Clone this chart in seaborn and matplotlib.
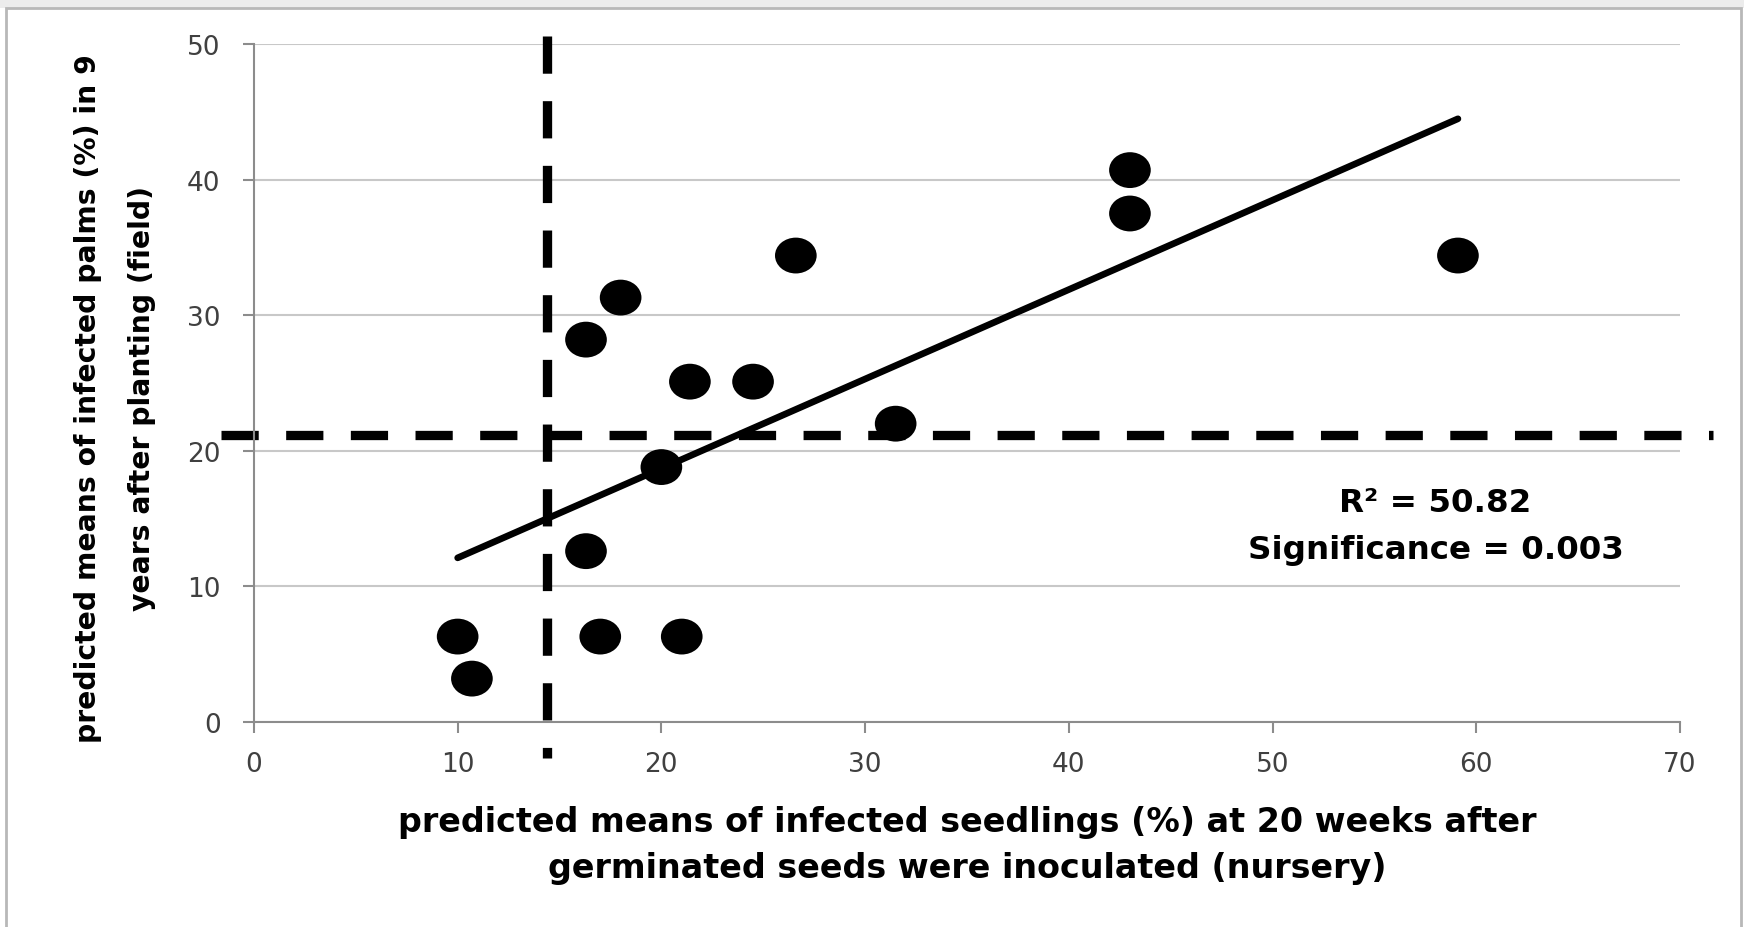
import numpy as np
import pandas as pd
import seaborn as sns
import matplotlib.pyplot as plt
from matplotlib.path import Path
from matplotlib.transforms import Affine2D
from matplotlib.patches import Rectangle

# predicted means (%)
nursery = [10.0, 10.7, 16.3, 17.0, 21.0, 20.0, 16.3, 18.0, 21.4, 24.5, 26.6, 31.5, 43.0, 43.0, 59.1]
field = [6.3, 3.2, 12.6, 6.3, 6.3, 18.8, 28.2, 31.3, 25.1, 25.1, 34.4, 22.0, 40.7, 37.5, 34.4]

# cut-off lines
nursery_cut = 14.4
field_cut = 21.2

x_ticks = [0, 10, 20, 30, 40, 50, 60, 70]
y_ticks = [0, 10, 20, 30, 40, 50]

stats_text = "R\u00b2 = 50.82\nSignificance = 0.003"
xlab = "predicted means of infected seedlings (%) at 20 weeks after\ngerminated seeds were inoculated (nursery)"
ylab = "predicted means of infected palms (%) in 9\nyears after planting (field)"

sns.set_style("white")
plt.rcParams['font.family'] = ['DejaVu Sans']

df = pd.DataFrame({"nursery": nursery, "field": field})

fig = plt.figure(figsize=(17.44, 9.28), dpi=100)
ax = fig.add_axes([0.1456, 0.2209, 0.8177, 0.7306])

# threshold lines (go a bit past the plot area like the original)
dash = dict(color="black", lw=6.7, dashes=(4.0, 2.95), clip_on=False, zorder=1.5)
ax.plot([nursery_cut, nursery_cut], [50.6, -2.65], **dash)
ax.plot([-1.6, 71.6], [field_cut, field_cut], **dash)

sns.regplot(data=df, x="nursery", y="field", ci=None, scatter=False, truncate=True,
            line_kws=dict(color="black", lw=4.8, zorder=2), ax=ax)

ellipse = Path.unit_circle().transformed(Affine2D().scale(1.0, 0.86))
sns.scatterplot(data=df, x="nursery", y="field", marker=ellipse, s=900,
                color="black", edgecolor="none", linewidth=0, ax=ax, zorder=3)

ax.set_xlim(0, 70)
ax.set_ylim(0, 50)
ax.set_xticks(x_ticks)
ax.set_yticks(y_ticks)
ax.yaxis.grid(True, color="#c8c8c8", lw=1.5)
ax.xaxis.grid(False)
ax.set_axisbelow(True)
for s in ["top", "right"]:
    ax.spines[s].set_visible(False)
for s in ["left", "bottom"]:
    ax.spines[s].set_color("#8c8c8c")
    ax.spines[s].set_linewidth(1.5)
ax.tick_params(bottom=True, left=True, direction="out", length=8, width=1.5,
               color="#8c8c8c", labelsize=19, labelcolor="#404040")
ax.tick_params(axis="x", pad=13)
ax.tick_params(axis="y", pad=16)

ax.set_xlabel(xlab, fontsize=24, fontweight="bold", linespacing=1.51, color="black")
ax.xaxis.set_label_coords(0.5, -0.1217)
ax.set_ylabel(ylab, fontsize=20.3, fontweight="bold", linespacing=2.2, color="black")
ax.yaxis.set_label_coords(-0.0687, 0.478)

ax.text(58.0, 14.45, stats_text, ha="center", va="center", multialignment="center",
        fontsize=23.4, fontweight="bold", linespacing=1.66, color="black")

# frame of the original chart window
fig.patches.append(Rectangle((0, 1 - 9 / 928), 1, 9 / 928, transform=fig.transFigure,
                             facecolor="#ececec", edgecolor="none", zorder=0))
fig.patches.append(Rectangle((6 / 1744, -0.05), 1735 / 1744, 1.05 - 9 / 928,
                             transform=fig.transFigure, facecolor="none",
                             edgecolor="#b8b8b8", lw=2, zorder=0))

fig.savefig("out.png", dpi=100)
